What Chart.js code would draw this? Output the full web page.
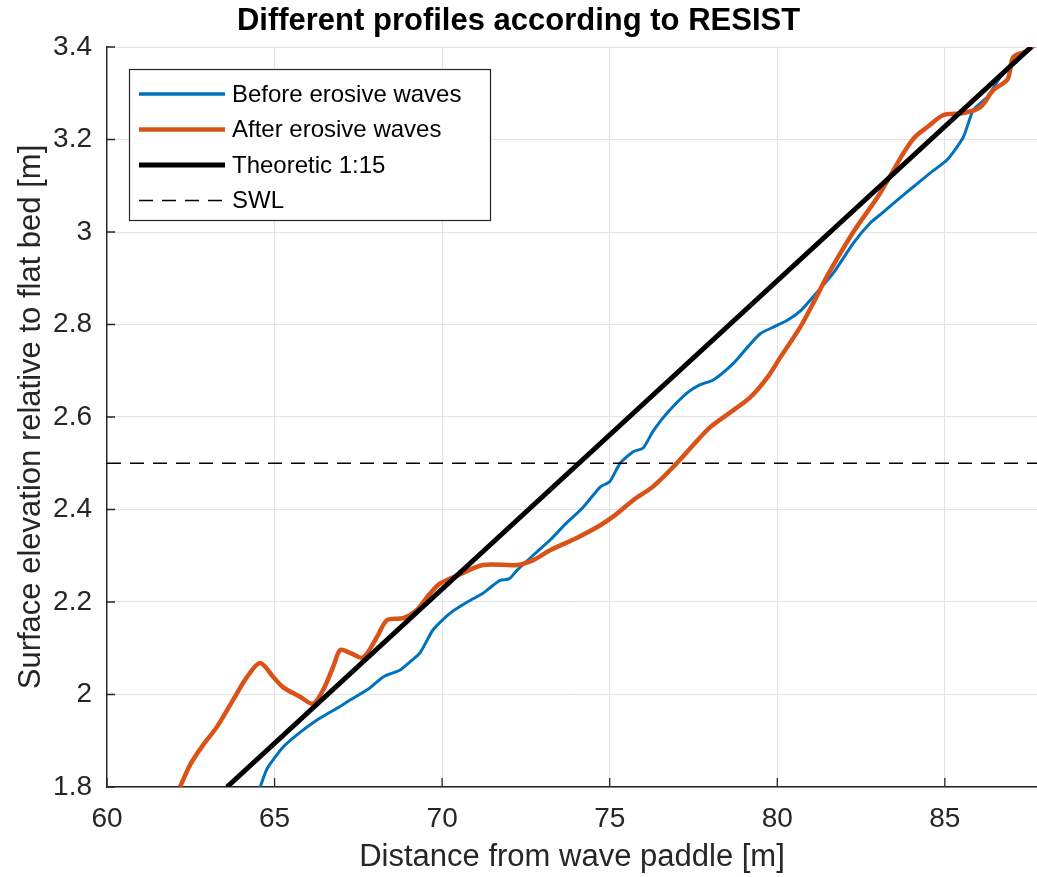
<!DOCTYPE html>
<html>
<head>
<meta charset="utf-8">
<title>Different profiles according to RESIST</title>
<script src="https://cdn.jsdelivr.net/npm/chart.js@4.4.1/dist/chart.umd.min.js"></script>
<style>
    html, body { margin: 0; padding: 0; background: #fff; }
    .chart-box { width: 1037px; height: 877px; position: relative; }
</style>
</head>
<body>
<div class="chart-box"><canvas id="profiles"></canvas></div>
<script>
// profile: distance [m] / elevation [m]
const beforeX = [64.57, 64.78, 65.25, 65.76, 66.27, 66.9, 67.25, 67.8, 68.24, 68.75, 69.0, 69.34, 69.73,
    70.24, 70.75, 71.22, 71.5, 71.73, 72.0, 72.24, 72.7, 73.22, 73.7, 74.21, 74.72, 75.0, 75.31, 75.7, 76.0, 76.3,
    76.72, 77.31, 77.7, 78.09, 78.69, 79.1, 79.49, 79.9, 80.3, 80.7, 81.07, 81.67, 82.27, 82.78, 83.2, 83.58,
    84.1, 84.57, 85.07, 85.55, 85.85, 86.27, 86.66, 87.25, 87.6];
const beforeY = [1.80, 1.84, 1.886, 1.918, 1.945, 1.972, 1.988, 2.012, 2.038, 2.053, 2.068, 2.09, 2.14,
    2.176, 2.20, 2.219, 2.235, 2.247, 2.25, 2.269, 2.30, 2.334, 2.37, 2.405, 2.449, 2.46, 2.50, 2.525, 2.533, 2.57,
    2.609, 2.652, 2.67, 2.68, 2.716, 2.75, 2.78, 2.795, 2.809, 2.83, 2.86, 2.911, 2.976, 3.02, 3.045, 3.069,
    3.10, 3.128, 3.156, 3.205, 3.264, 3.292, 3.335, 3.378, 3.40];

const afterX = [62.18, 62.48, 62.87, 63.28, 63.76, 64.18, 64.57, 64.96, 65.25, 65.76, 66.15, 66.45, 66.75, 66.96,
    67.25, 67.64, 68.06, 68.36, 68.84, 69.25, 69.6, 69.94, 70.54, 71.22, 72.24, 72.7, 73.22, 74.0, 74.72, 75.2,
    75.7, 76.3, 77.0, 77.5, 78.0, 78.6, 79.2, 79.7, 80.1, 80.69, 81.1, 81.49, 82.27, 82.99, 83.4, 83.76, 84.1,
    84.48, 84.96, 85.55, 86.06, 86.45, 86.87, 87.04, 87.4, 87.7];
const afterY = [1.80, 1.848, 1.891, 1.93, 1.988, 2.038, 2.068, 2.038, 2.016, 1.995, 1.98, 2.01, 2.06, 2.096,
    2.09, 2.08, 2.125, 2.161, 2.165, 2.183, 2.215, 2.24, 2.26, 2.28, 2.28, 2.29, 2.312, 2.338, 2.366, 2.39,
    2.42, 2.45, 2.50, 2.54, 2.578, 2.61, 2.643, 2.685, 2.73, 2.795, 2.85, 2.905, 3.0, 3.075, 3.125, 3.17, 3.205,
    3.227, 3.253, 3.257, 3.27, 3.307, 3.33, 3.378, 3.39, 3.405];

const slopeX = [63.58, 87.58];
const slopeY = [1.8, 3.4];

const swlX = [60, 87.75];
const swlY = [2.5, 2.5];

const seriesNames = ['Before erosive waves', 'After erosive waves', 'Theoretic 1:15', 'SWL'];

const xTicks = [60, 65, 70, 75, 80, 85];
const yTicks = [1.8, 2, 2.2, 2.4, 2.6, 2.8, 3, 3.2, 3.4];

const FONT = '"Liberation Sans", Arial, Helvetica, sans-serif';
const AXIS_GREY = '#262626';

function toPoints(xs, ys) {
    return xs.map((x, i) => ({ x: x, y: ys[i] }));
}

// matlab style ticks point into the axes
const innerTicks = {
    id: 'innerTicks',
    afterDatasetsDraw(chart) {
        const { ctx, chartArea, scales } = chart;
        ctx.save();
        ctx.strokeStyle = AXIS_GREY;
        ctx.lineWidth = 1.3;
        ctx.beginPath();
        xTicks.forEach(v => {
            const px = scales.x.getPixelForValue(v);
            ctx.moveTo(px, chartArea.bottom);
            ctx.lineTo(px, chartArea.bottom - 9);
        });
        yTicks.forEach(v => {
            const py = scales.y.getPixelForValue(v);
            ctx.moveTo(chartArea.left, py);
            ctx.lineTo(chartArea.left + 8, py);
        });
        ctx.stroke();
        ctx.restore();
    }
};

// legend box sits inside the axes, top left
const boxLegend = {
    id: 'boxLegend',
    afterDraw(chart) {
        const ctx = chart.ctx;
        const left = 129, top = 69, w = 361, h = 151;
        ctx.save();
        ctx.fillStyle = '#fff';
        ctx.fillRect(left, top, w, h);
        ctx.strokeStyle = AXIS_GREY;
        ctx.lineWidth = 1.2;
        ctx.strokeRect(left + 0.5, top + 0.5, w, h);
        ctx.font = '24px ' + FONT;
        ctx.textBaseline = 'middle';
        ctx.textAlign = 'left';
        chart.data.datasets.forEach((ds, i) => {
            const y = top + 25 + i * 35.5;
            ctx.beginPath();
            ctx.strokeStyle = ds.borderColor;
            ctx.lineWidth = Math.max(ds.borderWidth, 3.5);
            if (ds.borderDash) ctx.lineWidth = ds.borderWidth;
            ctx.setLineDash(ds.borderDash || []);
            ctx.moveTo(left + 10, y);
            ctx.lineTo(left + 96, y);
            ctx.stroke();
            ctx.setLineDash([]);
            ctx.fillStyle = '#000';
            ctx.fillText(ds.label, left + 103, y + 1);
        });
        ctx.restore();
    }
};

document.addEventListener('DOMContentLoaded', function () {
    const ctx = document.getElementById('profiles').getContext('2d');

    new Chart(ctx, {
        type: 'line',
        data: {
            datasets: [
                {
                    label: seriesNames[0],
                    data: toPoints(beforeX, beforeY),
                    borderColor: '#0072BD',
                    borderWidth: 3,
                    tension: 0.2,
                    order: 3
                },
                {
                    label: seriesNames[1],
                    data: toPoints(afterX, afterY),
                    borderColor: '#D95319',
                    borderWidth: 4.5,
                    tension: 0.3,
                    order: 2
                },
                {
                    label: seriesNames[2],
                    data: toPoints(slopeX, slopeY),
                    borderColor: '#000000',
                    borderWidth: 5,
                    tension: 0,
                    order: 1
                },
                {
                    label: seriesNames[3],
                    data: toPoints(swlX, swlY),
                    borderColor: '#000000',
                    borderWidth: 1.6,
                    borderDash: [14, 9],
                    tension: 0,
                    order: 0
                }
            ]
        },
        options: {
            responsive: true,
            maintainAspectRatio: false,
            animation: false,
            events: [],
            elements: { point: { radius: 0 } },
            layout: { padding: 0 },
            plugins: {
                legend: { display: false },
                tooltip: { enabled: false },
                title: {
                    display: true,
                    text: 'Different profiles according to RESIST',
                    color: '#000',
                    font: { family: FONT, size: 31, weight: 'bold' },
                    padding: { top: 3, bottom: 6.8 }
                }
            },
            scales: {
                x: {
                    type: 'linear',
                    min: 60,
                    max: 87.75,
                    afterFit: scale => { scale.height = 90; },
                    afterBuildTicks: scale => { scale.ticks = xTicks.map(v => ({ value: v })); },
                    grid: { color: '#e3e3e3', lineWidth: 1, drawTicks: false },
                    border: { display: true, color: AXIS_GREY, width: 1.4 },
                    ticks: {
                        autoSkip: false,
                        maxRotation: 0,
                        padding: 15,
                        color: AXIS_GREY,
                        font: { family: FONT, size: 28 }
                    },
                    title: {
                        display: true,
                        text: 'Distance from wave paddle [m]',
                        color: AXIS_GREY,
                        font: { family: FONT, size: 31 },
                        padding: { top: 0, bottom: 1 }
                    }
                },
                y: {
                    type: 'linear',
                    min: 1.8,
                    max: 3.4,
                    afterFit: scale => { scale.width = 107; },
                    afterBuildTicks: scale => { scale.ticks = yTicks.map(v => ({ value: v })); },
                    grid: { color: '#e3e3e3', lineWidth: 1, drawTicks: false },
                    border: { display: true, color: AXIS_GREY, width: 1.4 },
                    ticks: {
                        autoSkip: false,
                        padding: 15,
                        color: AXIS_GREY,
                        font: { family: FONT, size: 28 },
                        callback: v => String(Number(v.toFixed(2)))
                    },
                    title: {
                        display: true,
                        text: 'Surface elevation relative to flat bed [m]',
                        color: AXIS_GREY,
                        font: { family: FONT, size: 31 },
                        padding: { top: 12.5, bottom: 0 }
                    }
                }
            }
        },
        plugins: [innerTicks, boxLegend]
    });
});
</script>
</body>
</html>
